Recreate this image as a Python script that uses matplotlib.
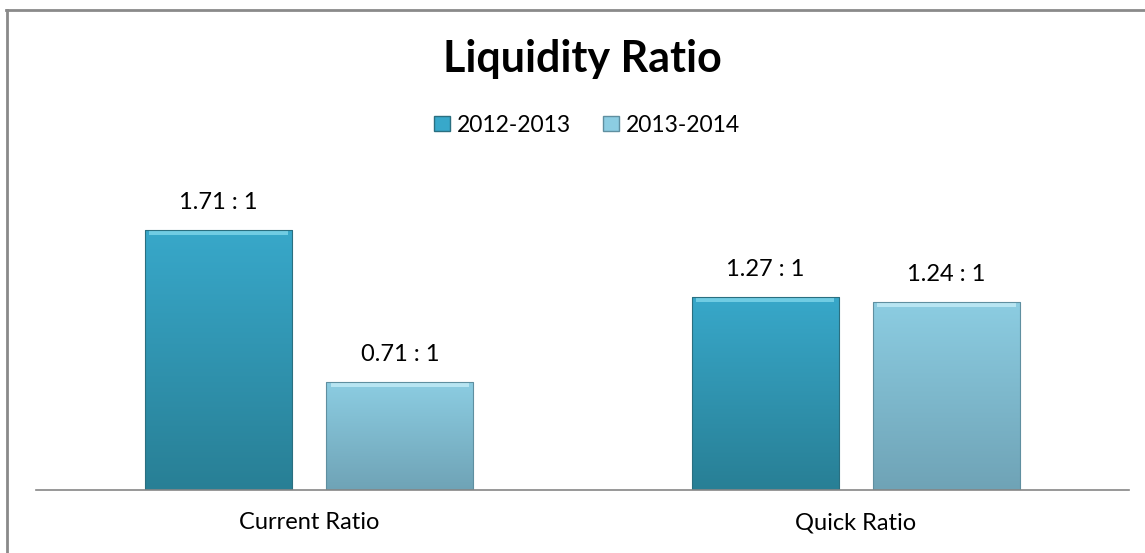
import matplotlib
matplotlib.use("Agg")
import matplotlib.pyplot as plt
import numpy as np
from matplotlib.patches import Rectangle
from matplotlib.lines import Line2D
from matplotlib.colors import LinearSegmentedColormap

categories = ["Current Ratio", "Quick Ratio"]
series_names = ["2012-2013", "2013-2014"]
values_2012 = [1.71, 1.27]
values_2013 = [0.71, 1.24]
labels_2012 = ["1.71 : 1", "1.27 : 1"]
labels_2013 = ["0.71 : 1", "1.24 : 1"]

plt.rcParams['font.family'] = ['Lato', 'DejaVu Sans']

W, H = 1145, 553
fig = plt.figure(figsize=(W / 100, H / 100), dpi=100)
fig.patch.set_facecolor('white')

ax = fig.add_axes([36 / W, (H - 490) / H, 1093 / W, 304 / H])

x = np.arange(len(categories))
width = 0.269
off = 0.166

styles = [
    dict(top='#38a8ca', bottom='#287f95', edge='#2a6f80', hl='#7fd6ea'),
    dict(top='#8ccde2', bottom='#6fa3b6', edge='#5f8fa0', hl='#c4ecf7'),
]

def gradient_bars(bars, st):
    cmap = LinearSegmentedColormap.from_list('g', [st['bottom'], st['top']])
    for b in bars:
        x0, w, h = b.get_x(), b.get_width(), b.get_height()
        grad = np.linspace(0, 1, 256).reshape(-1, 1)
        im = ax.imshow(grad, extent=(x0, x0 + w, 0, h), origin='lower',
                       cmap=cmap, aspect='auto', zorder=3)
        im.set_clip_path(b)
        b.set_facecolor('none')
        b.set_edgecolor(st['edge'])
        b.set_linewidth(0.8)
        b.set_zorder(4)
        ax.add_patch(Rectangle((x0 + w * 0.03, h - 0.035), w * 0.94, 0.028,
                               facecolor=st['hl'], edgecolor='none', alpha=0.8, zorder=3.5))

b1 = ax.bar(x - off, values_2012, width, color=styles[0]['top'], zorder=3)
b2 = ax.bar(x + off, values_2013, width, color=styles[1]['top'], zorder=3)
gradient_bars(b1, styles[0])
gradient_bars(b2, styles[1])
ax.set_xlim(-0.5, 1.5)
ax.set_ylim(0, 2.0)

for bars, labs in ((b1, labels_2012), (b2, labels_2013)):
    for b, lab in zip(bars, labs):
        ax.annotate(lab, (b.get_x() + b.get_width() / 2, b.get_height()),
                    xytext=(0, 19.5), textcoords='offset points',
                    ha='center', va='center', fontsize=17, color='black')

for s in ['top', 'right', 'left']:
    ax.spines[s].set_visible(False)
ax.spines['bottom'].set_color('#868686')
ax.spines['bottom'].set_linewidth(1.2)
ax.spines['bottom'].set_zorder(5)
ax.set_yticks([])
ax.set_xticks(x)
ax.set_xticklabels(categories, fontsize=17)
ax.tick_params(axis='x', length=0, pad=16)

fig.text(582 / W, 1 - 59 / H, "Liquidity Ratio", ha='center', va='center',
         fontsize=31, fontweight='bold')

handles = [Rectangle((0, 0), 1, 1, facecolor=styles[0]['top'], edgecolor=styles[0]['edge']),
           Rectangle((0, 0), 1, 1, facecolor=styles[1]['top'], edgecolor=styles[1]['edge'])]
fig.legend(handles, series_names, loc='center', bbox_to_anchor=(587 / W, 1 - 125 / H),
           ncol=2, frameon=False, fontsize=16.5, handlelength=0.68, handleheight=0.68,
           handletextpad=0.3, columnspacing=1.4)

fig.add_artist(Line2D([7 / W, 7 / W], [0, 1 - 9.5 / H], transform=fig.transFigure,
                      color='#8a8a8a', lw=2))
fig.add_artist(Line2D([6 / W, 1], [1 - 9.5 / H, 1 - 9.5 / H], transform=fig.transFigure,
                      color='#8a8a8a', lw=2))

fig.savefig('out.png', dpi=100, facecolor='white')
